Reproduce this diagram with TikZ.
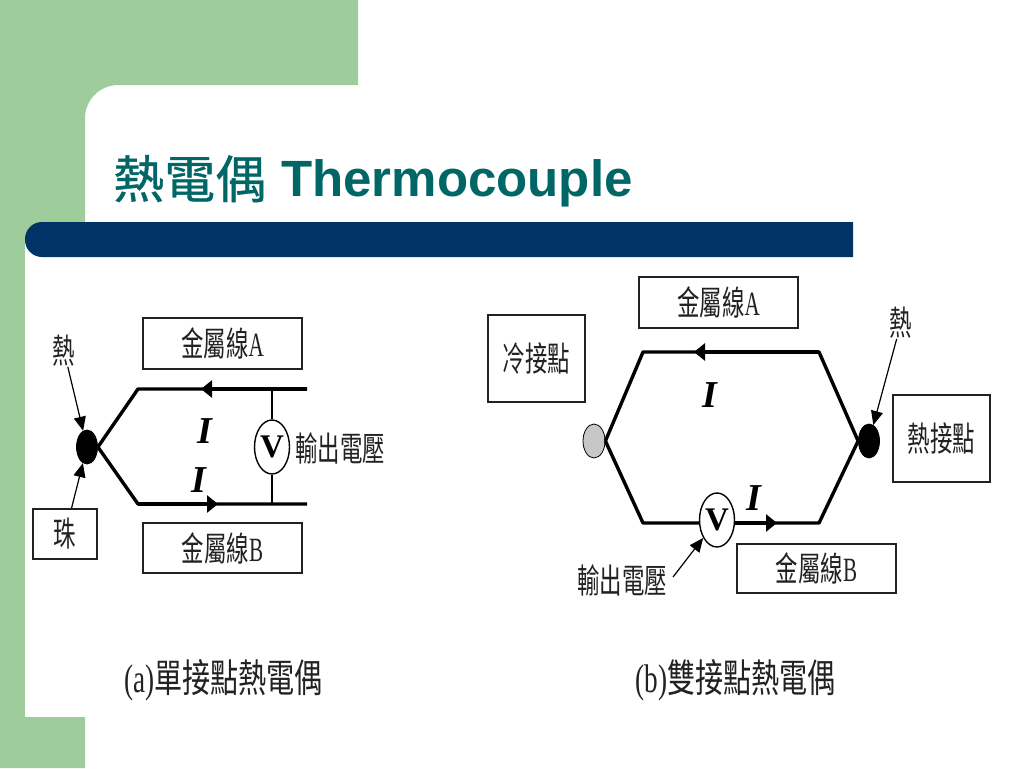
\documentclass[tikz,border=0pt]{standalone}
\usepackage{fontspec}
\usepackage{graphicx}
\setmainfont{Liberation Serif}
\newfontfamily\cjk{Noto Sans CJK TC}
\newfontfamily\cjktitle[FakeBold=0.7]{Noto Sans CJK TC}
\newfontfamily\titlelatin{Liberation Sans}
\usetikzlibrary{arrows.meta,shapes.geometric}
\definecolor{slidegreen}{HTML}{9FCC9B}
\definecolor{barnavy}{HTML}{003366}
\definecolor{titleteal}{HTML}{006666}
\definecolor{inkgray}{HTML}{222222}
\newcommand{\cn}[2][34]{\scalebox{.66}[1]{\fontsize{#1}{#1}\selectfont\cjk #2}}
\newcommand{\lt}[2][34]{\scalebox{.62}[1]{\fontsize{#1}{#1}\selectfont #2}}
\newcommand{\capcn}[1]{\scalebox{.72}[1]{\fontsize{39}{39}\selectfont\cjk #1}}
\newcommand{\caplt}[1]{\scalebox{.68}[1]{\fontsize{40}{40}\selectfont #1}}
\tikzset{
  x=1pt,y=-1pt,
  labelbox/.style={draw=inkgray,line width=1.6pt,fill=white,inner sep=0pt,text=inkgray},
  plain/.style={inner sep=0pt,text=inkgray},
  bead/.style={ellipse,fill=black,draw=black,line width=.8pt,minimum width=21pt,minimum height=34pt,inner sep=0pt},
  meter/.style={ellipse,fill=white,draw=black,line width=1.4pt,minimum width=35pt,minimum height=54pt,inner sep=0pt,font=\bfseries\fontsize{33}{33}\selectfont,text=black},
  wire/.style={draw=black,line width=3.4pt},
  thin wire/.style={draw=black,line width=2pt},
  flowtip/.style={draw=black,line width=3.4pt,-{Triangle[length=11pt,width=17pt]}},
  leader/.style={draw=black,line width=1.2pt,-{Triangle[length=14pt,width=12pt]}},
  current/.style={inner sep=0pt,font=\bfseries\itshape\fontsize{38}{38}\selectfont,text=black},
}
\begin{document}
\begin{tikzpicture}
\useasboundingbox (0,0) rectangle (1024,768);
\fill[white] (0,0) rectangle (1024,768);
% slide background
\fill[slidegreen] (0,0) -- (358,0) -- (358,85) -- (118,85) .. controls (100,85) and (85,100) .. (85,118) -- (85,768) -- (0,768) -- cycle;
\fill[white] (25,240) rectangle (90,717);
\fill[barnavy,rounded corners=17pt] (853,222) -- (25,222) -- (25,257) -- (853,257);
\node[anchor=base west,inner sep=0pt,text=titleteal,font=\fontsize{51}{51}\selectfont\cjktitle] (titlecn) at (113,198) {熱電偶};
\node[anchor=base west,inner sep=0pt,text=titleteal,font=\fontsize{51}{51}\selectfont\titlelatin\bfseries] (titleen) at (281,196) {Thermocouple};

% ---------- (a) ----------
\coordinate (aTL) at (138,389);
\coordinate (aBL) at (138,504);
\coordinate (aTR) at (307,389);
\coordinate (aBR) at (307,504);
\coordinate (aTM) at (272,389);
\coordinate (aBM) at (272,504);
\coordinate (aTtip) at (201,389);
\coordinate (aBtip) at (218,504);
\node[bead] (beadA) at (87,447) {};
\draw[wire,line join=round] (beadA.east) -- (aTL) -- (aTR);
\draw[wire,line join=round] (beadA.east) -- (aBL) -- (aBR);
\draw[flowtip] (aTR) -- (aTtip);
\draw[flowtip] (aBL) -- (aBtip);
\node[meter] (vA) at (272,447) {V};
\draw[thin wire] (aTM) -- (vA);
\draw[thin wire] (aBM) -- (vA);
\node[labelbox,minimum width=159pt,minimum height=51pt] (boxAa) at (222.5,343.5) {\cn{金屬線}\lt{A}};
\node[labelbox,minimum width=159pt,minimum height=50pt] (boxAb) at (222.5,548) {\cn{金屬線}\lt{B}};
\node[labelbox,minimum width=64pt,minimum height=50pt] (boxBead) at (65,534) {\cn{珠}};
\node[plain] (heatA) at (64,351) {\cn{熱}};
\node[plain] (outA) at (340,448) {\cn{輸出電壓}};
\node[current] (iA1) at (205,431) {I};
\node[current] (iA2) at (199,480) {I};
\draw[leader] (heatA) -- (beadA);
\draw[leader] (boxBead) -- (beadA);

% ---------- (b) ----------
\coordinate (bTL) at (643,352);
\coordinate (bTR) at (819,352);
\coordinate (bBL) at (643,523);
\coordinate (bBR) at (819,523);
\coordinate (bTtip) at (694,352);
\coordinate (bBtip) at (777,523);
\node[bead,fill=black!22,minimum width=22pt] (cold) at (594,441) {};
\node[bead] (hot) at (869,441) {};
\draw[wire,line join=round] (cold.east) -- (bTL) -- (bTR) -- (hot.west);
\draw[wire,line join=round] (cold.east) -- (bBL) -- (bBR) -- (hot.west);
\draw[flowtip] (bTR) -- (bTtip);
\node[meter] (vB) at (717,520) {V};
\draw[flowtip] (vB.east |- bBtip) -- (bBtip);
\node[labelbox,minimum width=159pt,minimum height=51pt] (boxBa) at (718.5,302.5) {\cn{金屬線}\lt{A}};
\node[labelbox,minimum width=159pt,minimum height=49pt] (boxBb) at (816.5,568.5) {\cn{金屬線}\lt{B}};
\node[labelbox,minimum width=97pt,minimum height=87pt] (boxCold) at (536.5,358.5) {\cn{冷接點}};
\node[labelbox,minimum width=97pt,minimum height=87pt] (boxHot) at (941.5,438.5) {\cn{熱接點}};
\node[plain] (heatB) at (901,323) {\cn{熱}};
\node[plain] (outB) at (622,580) {\cn{輸出電壓}};
\coordinate (outBstart) at (673,577);
\node[current] (iB1) at (710,395) {I};
\node[current] (iB2) at (754,498) {I};
\draw[leader] (heatB) -- (hot);
\draw[leader] (outBstart) -- (vB);

% ---------- captions ----------
\node[plain] (capA) at (223.5,680) {\caplt{(a)}\capcn{單接點熱電偶}};
\node[plain] (capB) at (735.5,680) {\caplt{(b)}\capcn{雙接點熱電偶}};
\end{tikzpicture}
\end{document}
